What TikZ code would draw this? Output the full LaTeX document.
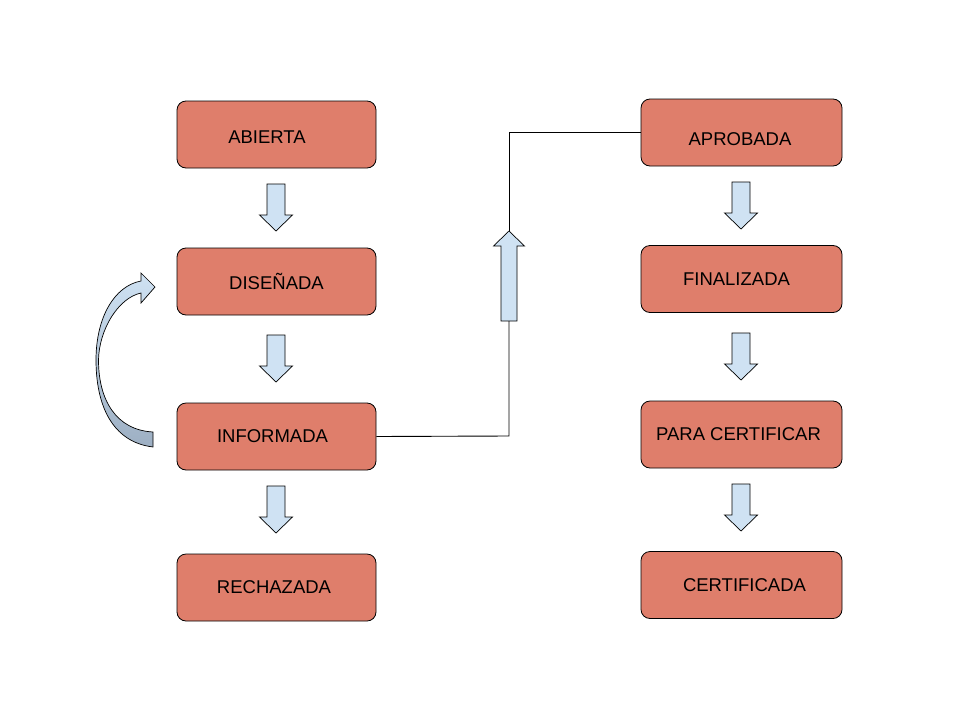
\documentclass[tikz,border=0pt]{standalone}
\usepackage{fontspec}
\setmainfont{Liberation Sans}
\definecolor{boxfill}{HTML}{DF7E6B}
\definecolor{arrfill}{HTML}{CFE2F3}
\definecolor{arrdark}{HTML}{9DAFC3}
\newcommand{\lowertxt}[2]{\vphantom{#2}\smash{\raisebox{-#1}{#2}}}
\begin{document}
\begin{tikzpicture}[x=1pt,y=-1pt,
  state/.style={draw=black, fill=boxfill, rounded corners=9pt, minimum width=199pt, minimum height=67pt, inner sep=0pt, font=\fontsize{18.5}{21}\selectfont, line width=0.8pt},
  blockarrow/.style={draw=black, fill=arrfill, line width=0.7pt, line join=miter},
  conn/.style={draw=black, line width=0.9pt}]
\useasboundingbox (0,0) rectangle (960,720);
% left column
\node[state] (abierta)   at (276.5,134.5) {\lowertxt{3pt}{ABIERTA}\kern19pt};
\node[state] (disenada)  at (276.5,281.5) {DISEÑADA};
\node[state] (informada) at (276.5,436.5) {INFORMADA\kern8pt};
\node[state] (rechazada) at (276.5,587.5) {RECHAZADA\kern5pt};
% right column
\node[state, minimum width=201pt] (aprobada)  at (741.5,132.5) {\lowertxt{7pt}{APROBADA}\kern3pt};
\node[state, minimum width=201pt] (finalizada) at (741.5,279) {FINALIZADA\kern10pt};
\node[state, minimum width=201pt] (paracert)  at (741.5,434.5) {PARA CERTIFICAR\kern6pt};
\node[state, minimum width=201pt] (certificada) at (741.5,585) {\kern6pt CERTIFICADA};
% down block arrows (left)
\foreach \y in {184,335,486}{
  \draw[blockarrow] (267,\y) -- (285,\y) -- (285,\y+31) -- (292.5,\y+31) -- (276,\y+47) -- (259.5,\y+31) -- (267,\y+31) -- cycle;
}
% down block arrows (right)
\foreach \y in {182,333,484}{
  \draw[blockarrow] (732,\y) -- (750,\y) -- (750,\y+31) -- (757.5,\y+31) -- (741,\y+47) -- (724.5,\y+31) -- (732,\y+31) -- cycle;
}
% up block arrow with connector
\coordinate (upbot) at (509,321);
\coordinate (uptip) at (509,231);
\draw[blockarrow] (501,321) -- (517,321) -- (517,246) -- (524.5,246) -- (uptip) -- (493.5,246) -- (501,246) -- cycle;
\draw[conn] (informada.east) -- (509,436) -- (upbot);
\draw[conn] (uptip) -- (509,132.5) -- (aprobada.west |- 0,132.5);
% curved arrow
\shade[top color=arrfill, bottom color=arrdark, draw=black, line width=0.7pt]
  (153,447) .. controls (112,442) and (96,405) .. (96,360)
  .. controls (96,318) and (114,286) .. (141,281)
  -- (141,273) -- (155,287) -- (141,303) -- (141,293)
  .. controls (118,298) and (99,330) .. (98.5,360)
  .. controls (98.5,400) and (116,430) .. (153,432) -- cycle;
\end{tikzpicture}
\end{document}
